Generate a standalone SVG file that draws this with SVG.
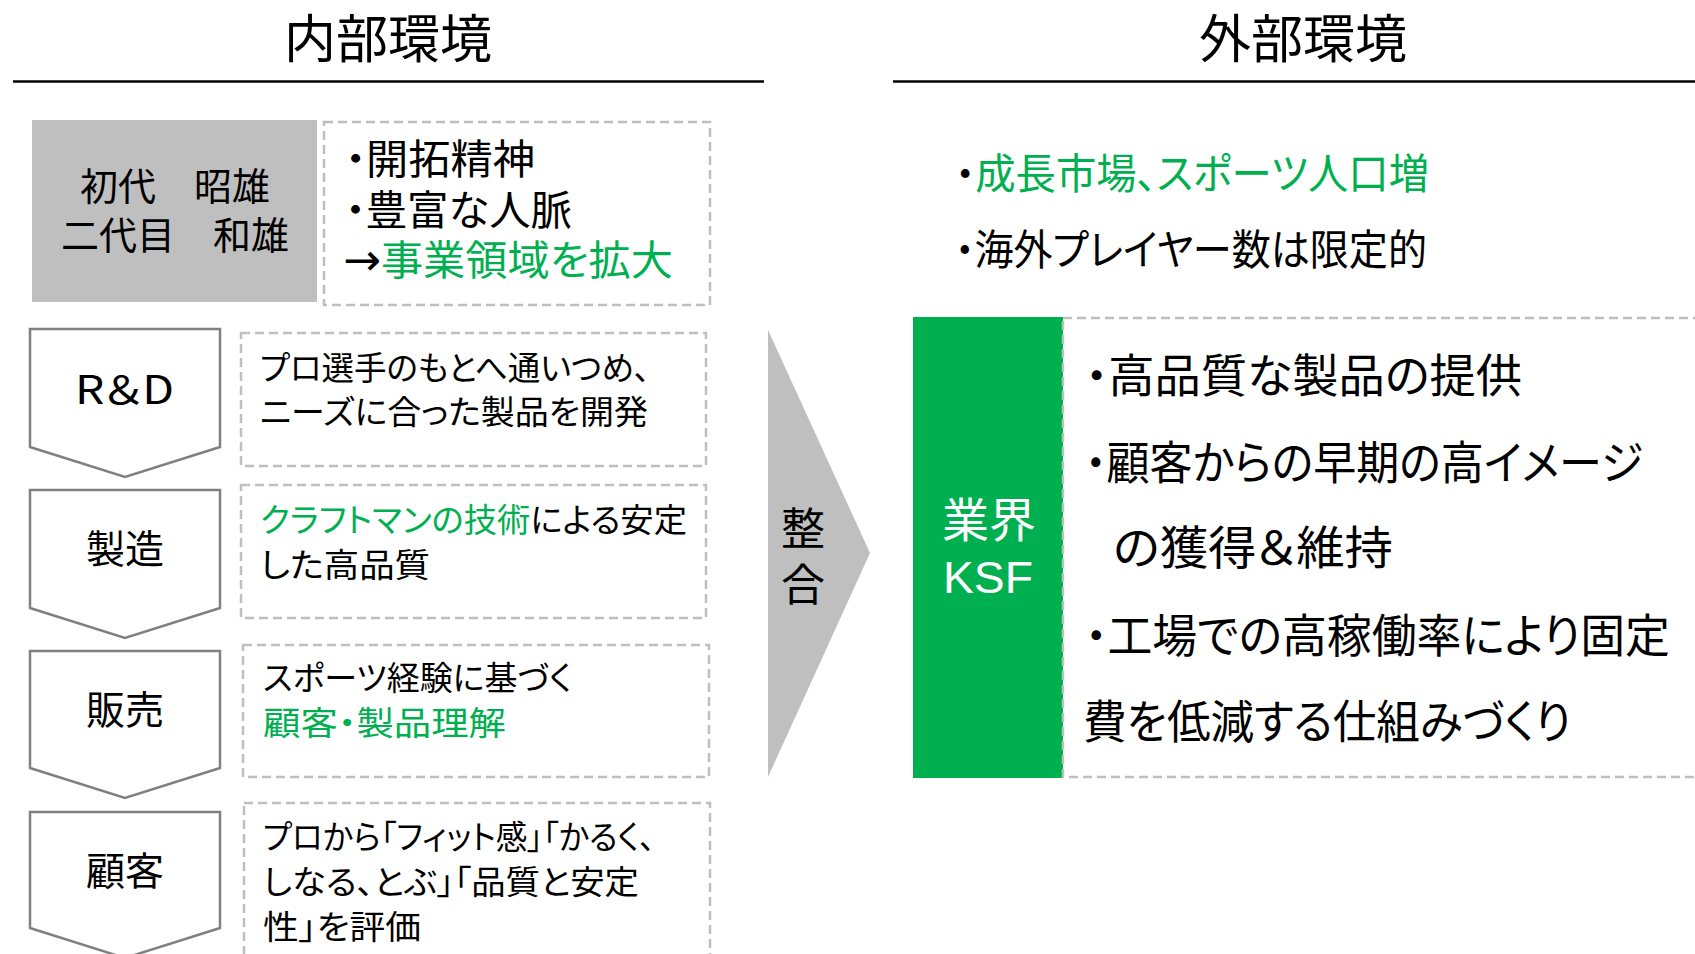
<svg xmlns="http://www.w3.org/2000/svg" width="1695" height="954" viewBox="0 0 1695 954">
<style>
text{font-family:"Noto Sans CJK JP","Noto Sans CJK SC",sans-serif;fill:#000;font-feature-settings:"palt" 1;}
.tight{font-family:"Liberation Sans","Noto Sans CJK JP","Noto Sans CJK SC",sans-serif;}
.arr{font-family:"DejaVu Sans",sans-serif;font-size:44px;}
.title{font-size:52px;text-anchor:middle;}
.g{fill:#00b050;}
.w{fill:#fff;}
.dash{fill:none;stroke:#bfbfbf;stroke-width:2.5;stroke-dasharray:9 5;}
.chev{fill:#fff;stroke:#808080;stroke-width:2.5;}
.lab{font-size:39px;text-anchor:middle;}
.t33{font-size:33px;}
.t41{font-size:41px;}
.t42{font-size:42px;}
.t46{font-size:46px;}
</style>
<rect width="1695" height="954" fill="#fff"/>

<g id="header-internal">
<text class="title" x="388" y="58">内部環境</text>
<line x1="13" y1="81.5" x2="764" y2="81.5" stroke="#000" stroke-width="2.5"/>
</g>
<g id="header-external">
<text class="title" x="1303" y="58">外部環境</text>
<line x1="893" y1="81.5" x2="1695" y2="81.5" stroke="#000" stroke-width="2.5"/>
</g>

<g id="founders">
<rect x="32" y="120" width="285" height="182" fill="#bfbfbf"/>
<text class="tight" font-size="38" text-anchor="middle"><tspan x="175" y="200">初代　昭雄</tspan><tspan x="175" y="249">二代目　和雄</tspan></text>
</g>
<g id="founders-detail">
<rect class="dash" x="324" y="122" width="386" height="183"/>
<text class="t41 tight"><tspan x="345" y="174" textLength="190" lengthAdjust="spacingAndGlyphs">・開拓精神</tspan><tspan x="345" y="225" textLength="227" lengthAdjust="spacingAndGlyphs">・豊富な人脈</tspan><tspan x="343" y="275" textLength="330" lengthAdjust="spacingAndGlyphs"><tspan class="arr">→</tspan><tspan class="g">事業領域を拡大</tspan></tspan></text>
</g>

<g id="rd">
<path class="chev" d="M30,329 H220 V447 L125,477 L30,447 Z"/>
<text x="75" y="404" font-size="39" textLength="99" lengthAdjust="spacingAndGlyphs">R＆D</text>
<rect class="dash" x="241" y="333" width="465" height="133"/>
<text class="t33"><tspan x="260" y="380" textLength="390" lengthAdjust="spacingAndGlyphs">プロ選手のもとへ通いつめ、</tspan><tspan x="260" y="424" textLength="388" lengthAdjust="spacingAndGlyphs">ニーズに合った製品を開発</tspan></text>
</g>

<g id="manufacturing">
<path class="chev" d="M30,490 H220 V608 L125,638 L30,608 Z"/>
<text class="lab" x="125" y="563">製造</text>
<rect class="dash" x="241" y="485" width="465" height="133"/>
<text class="t33"><tspan x="260" y="532" textLength="427" lengthAdjust="spacingAndGlyphs"><tspan class="g">クラフトマンの技術</tspan>による安定</tspan><tspan x="260" y="577" textLength="170" lengthAdjust="spacingAndGlyphs">した高品質</tspan></text>
</g>

<g id="sales">
<path class="chev" d="M30,651 H220 V768 L125,798 L30,768 Z"/>
<text class="lab" x="125" y="724">販売</text>
<rect class="dash" x="243" y="645" width="466" height="132"/>
<text class="t33"><tspan x="263" y="690" textLength="309" lengthAdjust="spacingAndGlyphs">スポーツ経験に基づく</tspan><tspan class="g" x="263" y="735" textLength="243" lengthAdjust="spacingAndGlyphs">顧客・製品理解</tspan></text>
</g>

<g id="customer">
<path class="chev" d="M30,812 H220 V928 L125,958 L30,928 Z"/>
<text class="lab" x="125" y="885">顧客</text>
<rect class="dash" x="244" y="803" width="466" height="170"/>
<text class="t33"><tspan x="263" y="849" textLength="392" lengthAdjust="spacingAndGlyphs">プロから「フィット感」「かるく、</tspan><tspan x="263" y="894" textLength="376" lengthAdjust="spacingAndGlyphs">しなる、とぶ」「品質と安定</tspan><tspan x="263" y="939" textLength="158" lengthAdjust="spacingAndGlyphs">性」を評価</tspan></text>
</g>

<g id="integration">
<polygon points="768,330 870,553 768,777" fill="#bfbfbf"/>
<text class="tight" x="803" y="545" font-size="44" text-anchor="middle">整<tspan x="803" y="601">合</tspan></text>
</g>

<g id="external-factors">
<text class="t42"><tspan x="955" y="189" textLength="474" lengthAdjust="spacingAndGlyphs">・<tspan class="g">成長市場、スポーツ人口増</tspan></tspan><tspan x="955" y="265" textLength="472" lengthAdjust="spacingAndGlyphs">・海外プレイヤー数は限定的</tspan></text>
</g>

<g id="ksf">
<rect x="913" y="317" width="150" height="461" fill="#00b050"/>
<text class="w tight"><tspan x="989" y="537" font-size="47" text-anchor="middle">業界</tspan><tspan x="943" y="593" font-size="44" textLength="90" lengthAdjust="spacingAndGlyphs">KSF</tspan></text>
</g>
<g id="ksf-detail">
<rect class="dash" x="1063" y="318" width="660" height="459"/>
<text class="t46"><tspan x="1085" y="392" textLength="437" lengthAdjust="spacingAndGlyphs">・高品質な製品の提供</tspan><tspan x="1085" y="479" textLength="558" lengthAdjust="spacingAndGlyphs">・顧客からの早期の高イメージ</tspan><tspan x="1113" y="564" textLength="280" lengthAdjust="spacingAndGlyphs">の獲得＆維持</tspan><tspan x="1085" y="652" textLength="585" lengthAdjust="spacingAndGlyphs">・工場での高稼働率により固定</tspan><tspan x="1083" y="738" textLength="488" lengthAdjust="spacingAndGlyphs">費を低減する仕組みづくり</tspan></text>
</g>
</svg>
